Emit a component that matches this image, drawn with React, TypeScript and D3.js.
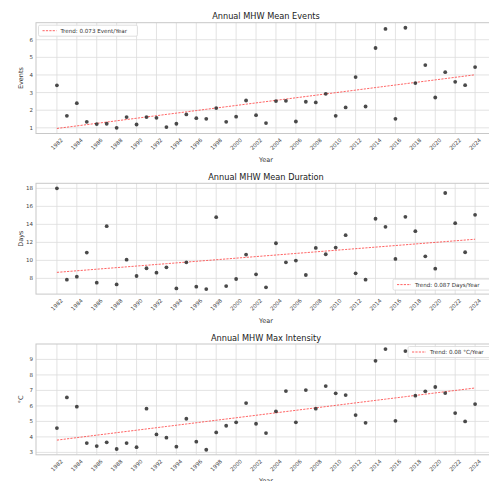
import React from 'react';
import * as d3 from 'd3';

const years = [1982, 1983, 1984, 1985, 1986, 1987, 1988, 1989, 1990, 1991, 1992, 1993, 1994, 1995, 1996, 1997, 1998, 1999, 2000, 2001, 2002, 2003, 2004, 2005, 2006, 2007, 2008, 2009, 2010, 2011, 2012, 2013, 2014, 2015, 2016, 2017, 2018, 2019, 2020, 2021, 2022, 2023, 2024];
const xTickYears = [1982, 1984, 1986, 1988, 1990, 1992, 1994, 1996, 1998, 2000, 2002, 2004, 2006, 2008, 2010, 2012, 2014, 2016, 2018, 2020, 2022, 2024];

const eventsValues = [3.41, 1.68, 2.40, 1.34, 1.21, 1.23, 1.00, 1.61, 1.19, 1.61, 1.57, 1.04, 1.23, 1.76, 1.55, 1.51, 2.12, 1.34, 1.63, 2.55, 1.72, 1.27, 2.52, 2.53, 1.36, 2.48, 2.44, 2.93, 1.68, 2.16, 3.88, 2.21, 5.53, 6.61, 1.51, 6.68, 3.54, 4.56, 2.72, 4.16, 3.61, 3.42, 4.45];
const durationValues = [18.0, 7.85, 8.19, 10.86, 7.52, 13.80, 7.33, 10.08, 8.26, 9.12, 8.63, 9.23, 6.88, 9.78, 7.07, 6.81, 14.80, 7.14, 7.93, 10.64, 8.45, 7.0, 11.90, 9.78, 9.97, 8.37, 11.38, 10.68, 11.42, 12.80, 8.56, 7.85, 14.62, 13.72, 10.16, 14.84, 13.24, 10.45, 9.08, 17.48, 14.13, 10.90, 15.06];
const intensityValues = [4.57, 6.55, 5.95, 3.60, 3.41, 3.65, 3.22, 3.60, 3.34, 5.82, 4.16, 3.95, 3.37, 5.17, 3.69, 3.17, 4.29, 4.72, 4.94, 6.18, 4.85, 4.25, 5.65, 6.96, 4.94, 7.02, 5.82, 7.28, 6.81, 6.70, 5.41, 4.91, 8.91, 9.67, 5.04, 9.54, 6.66, 6.94, 7.22, 6.83, 5.54, 5.00, 6.12];

const eventsTicks = [1, 2, 3, 4, 5, 6];
const durationTicks = [8, 10, 12, 14, 16, 18];
const intensityTicks = [3, 4, 5, 6, 7, 8, 9];

const panelTitles = ['Annual MHW Mean Events', 'Annual MHW Mean Duration', 'Annual MHW Max Intensity'];
const yLabels = ['Events', 'Days', '°C'];
const legendLabels = ['Trend: 0.073 Event/Year', 'Trend: 0.087 Days/Year', 'Trend: 0.08 °C/Year'];
const legendLocs = ['upper left', 'lower right', 'upper right'];

const W = 489;
const H = 481;
const plotLeft = 36;
const plotRight = 496;
const panelTops = [22.7, 183.3, 344];
const panelH = 110.8;
const FONT = 'DejaVu Sans, sans-serif';

function regression(xs: number[], ys: number[]) {
  const mx = d3.mean(xs) as number;
  const my = d3.mean(ys) as number;
  let num = 0, den = 0;
  xs.forEach((x, i) => { num += (x - mx) * (ys[i] - my); den += (x - mx) * (x - mx); });
  const slope = num / den;
  return (x: number) => my + slope * (x - mx);
}

function Panel({ idx, values, ticks }: { idx: number; values: number[]; ticks: number[] }) {
  const top = panelTops[idx];
  const bottom = top + panelH;
  const xPad = (years[years.length - 1] - years[0]) * 0.05;
  const x = d3.scaleLinear().domain([years[0] - xPad, years[years.length - 1] + xPad]).range([plotLeft, plotRight]);
  const fit = regression(years, values);
  const trendVals = years.map(fit);
  const all = values.concat(trendVals);
  const [mn, mx] = d3.extent(all) as [number, number];
  const yPad = (mx - mn) * 0.05;
  const y = d3.scaleLinear().domain([mn - yPad, mx + yPad]).range([bottom, top]);
  const line = d3.line<number>().x((_, i) => x(years[i])).y((d) => y(d));
  const midX = (plotLeft + plotRight) / 2;
  const midY = (top + bottom) / 2;

  const loc = legendLocs[idx];
  const boxH = 11;
  let boxX = 0, boxY = 0, boxW = 0;
  if (loc === 'upper left') { boxX = plotLeft + 2.5; boxY = top + 2.5; boxW = 99; }
  else if (loc === 'lower right') { boxX = 393; boxY = bottom - boxH - 4; boxW = 110; }
  else { boxX = 408; boxY = top + 2.5; boxW = 100; }
  const cy = boxY + boxH / 2;

  return (
    <g>
      <rect x={plotLeft} y={top} width={plotRight - plotLeft} height={panelH} fill="#fff" />
      {xTickYears.map((t) => (
        <line key={'gx' + t} x1={x(t)} x2={x(t)} y1={top} y2={bottom} stroke="#dcdcdc" strokeWidth={0.8} />
      ))}
      {ticks.map((t) => (
        <line key={'gy' + t} x1={plotLeft} x2={plotRight} y1={y(t)} y2={y(t)} stroke="#dcdcdc" strokeWidth={0.8} />
      ))}
      <rect x={plotLeft} y={top} width={plotRight - plotLeft} height={panelH} fill="none" stroke="#c8c8c8" strokeWidth={1} />
      <path d={line(trendVals) || ''} fill="none" stroke="#ff3030" strokeOpacity={0.75} strokeWidth={1} strokeDasharray="2.2 1.2" />
      {values.map((v, i) => (
        <circle key={'p' + i} cx={x(years[i])} cy={y(v)} r={1.9} fill="#2a2a2a" fillOpacity={0.85} />
      ))}
      {ticks.map((t) => (
        <text key={'ty' + t} x={plotLeft - 3} y={y(t)} dy="0.35em" fontSize={5.5} fill="#444" textAnchor="end" fontFamily={FONT}>{t}</text>
      ))}
      {xTickYears.map((t) => (
        <text key={'tx' + t} transform={`translate(${x(t)},${bottom + 10.5}) rotate(-45)`} fontSize={5.5} fill="#444" textAnchor="middle" dominantBaseline="central" fontFamily={FONT}>{t}</text>
      ))}
      <text x={midX} y={top - 3.5} fontSize={8.2} fill="#222" textAnchor="middle" fontFamily={FONT}>{panelTitles[idx]}</text>
      <text transform={`translate(${20.8},${midY}) rotate(-90)`} fontSize={6.5} fill="#333" textAnchor="middle" dominantBaseline="central" fontFamily={FONT}>{yLabels[idx]}</text>
      <text x={midX} y={bottom + 28.5} fontSize={6.5} fill="#333" textAnchor="middle" fontFamily={FONT}>Year</text>
      <rect x={boxX} y={boxY} width={boxW} height={boxH} fill="#fff" fillOpacity={0.85} stroke="#d8d8d8" strokeWidth={0.8} rx={1.5} />
      <line x1={boxX + 4} x2={boxX + 18} y1={cy} y2={cy} stroke="#ff3030" strokeOpacity={0.75} strokeWidth={1} strokeDasharray="2.2 1.2" />
      <text x={boxX + 22} y={cy} dy="0.35em" fontSize={5.6} fill="#333" fontFamily={FONT}>{legendLabels[idx]}</text>
    </g>
  );
}

export default function App() {
  return (
    <svg width={W} height={H} style={{ position: 'absolute', left: 0, top: 0, display: 'block', background: '#fff' }}>
      <rect x={0} y={0} width={W} height={H} fill="#fff" />
      <Panel idx={0} values={eventsValues} ticks={eventsTicks} />
      <Panel idx={1} values={durationValues} ticks={durationTicks} />
      <Panel idx={2} values={intensityValues} ticks={intensityTicks} />
    </svg>
  );
}
